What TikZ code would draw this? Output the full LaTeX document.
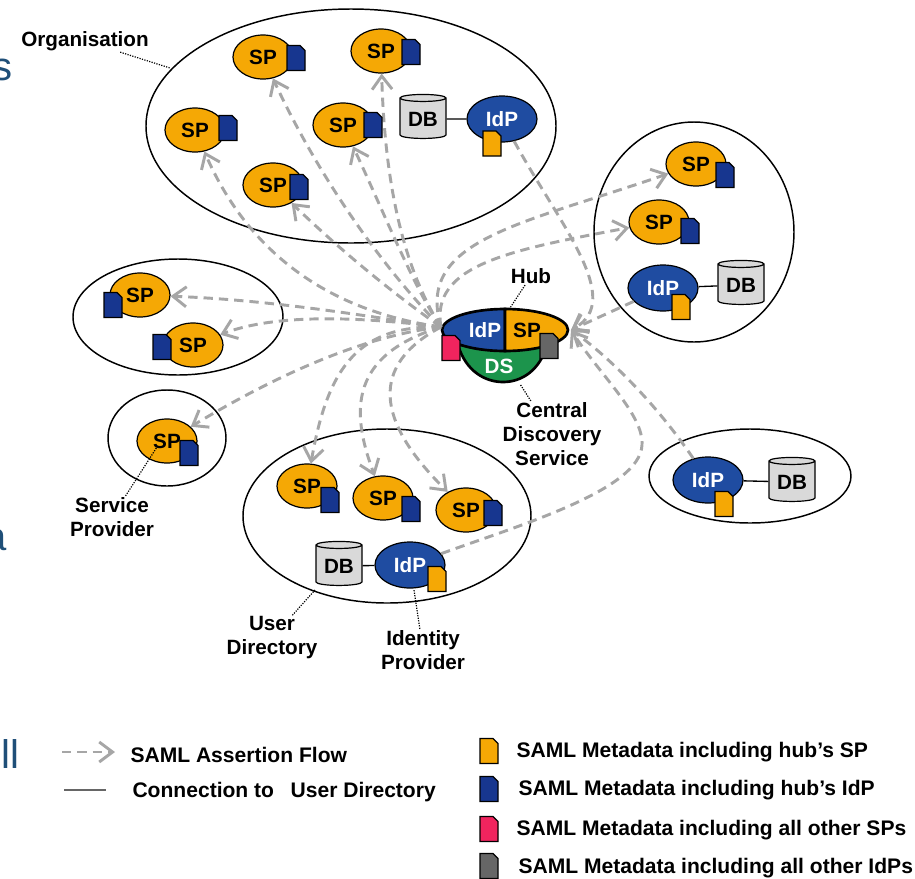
\documentclass[tikz,border=0pt]{standalone}
\usepackage{fontspec}
\setmainfont{Liberation Sans}
\usetikzlibrary{arrows.meta,shapes.geometric}
\definecolor{sporange}{rgb}{0.96,0.66,0.02}
\definecolor{idpblue}{rgb}{0.12,0.30,0.63}
\definecolor{docblue}{rgb}{0.09,0.21,0.56}
\definecolor{dsgreen}{rgb}{0.11,0.58,0.30}
\definecolor{docpink}{rgb}{0.94,0.14,0.37}
\definecolor{docgrey}{rgb}{0.40,0.40,0.40}
\definecolor{dbgrey}{rgb}{0.85,0.85,0.85}
\definecolor{flowgrey}{rgb}{0.65,0.65,0.65}
\definecolor{slideblue}{rgb}{0.12,0.31,0.47}
\tikzset{every picture/.style={line width=0.75pt}}
\tikzset{
  lbl/.style={font=\fontsize{15.5}{18}\selectfont\bfseries,inner sep=0.75pt,align=center},
  legendtxt/.style={font=\fontsize{15.8}{18}\selectfont\bfseries,inner sep=0.75pt,anchor=west},
  slidetxt/.style={font=\fontsize{30}{32}\selectfont,text=slideblue,inner sep=0pt},
  fedzone/.style={draw,line width=1.1pt,fill=white},
  spnode/.style={ellipse,draw,line width=0.9pt,fill=sporange,minimum width=45pt,minimum height=33pt,inner sep=0pt,lbl},
  idpnode/.style={ellipse,draw,line width=0.9pt,fill=idpblue,minimum width=52.5pt,minimum height=34.5pt,inner sep=0pt,lbl,text=white},
  dbnode/.style={cylinder,shape border rotate=90,aspect=0.22,draw,line width=0.9pt,fill=dbgrey,minimum width=34.5pt,minimum height=33pt,inner sep=0pt,lbl},
  flow/.style={draw=flowgrey,line width=2.2pt,dash pattern=on 7pt off 4.5pt,-{Straight Barb[length=10pt,width=15pt]}},
  userdir/.style={line width=1pt},
  callout/.style={densely dotted,line width=0.9pt},
  pics/metadoc/.style={code={\draw[fill=#1,line width=0.9pt] (-9,12.5) -- (4,12.5) -- (9,7.5) -- (9,-12.5) -- (-9,-12.5) -- cycle;}}
}
\begin{document}
\begin{tikzpicture}[x=0.75pt,y=0.75pt,yscale=-1,xscale=1]
\useasboundingbox (0,0) rectangle (915,879);
% Slide leftovers
\draw (-8,70) node [slidetxt,anchor=west] (slideS) {s};
\draw (-16,540) node [slidetxt,anchor=west] (slideA) {a};
\draw (1,754) node [slidetxt,anchor=west] (slideL) {ll};
% Domains
\draw [fedzone] (351,126) ellipse (205 and 117);
\draw [fedzone] (694,232) ellipse (100 and 110);
\draw [fedzone] (178,317) ellipse (105 and 58);
\draw [fedzone] (167,438) ellipse (59 and 48);
\draw [fedzone] (387,516) ellipse (144 and 87);
\draw [fedzone] (750,476) ellipse (101 and 47);
% Hub
\coordinate (hubW) at (441,327);
\coordinate (hubE) at (571,330);
\draw [line width=2pt,fill=dsgreen] (458,345) .. controls (466,372) and (486,382) .. (503,382) .. controls (522,382) and (540,370) .. (547,345) -- cycle;
\draw [line width=2pt,fill=idpblue] (505,309) arc [start angle=270,end angle=90,x radius=63,y radius=21] -- cycle;
\draw [line width=2pt,fill=sporange] (505,309) arc [start angle=270,end angle=450,x radius=63,y radius=21] -- cycle;
\draw (485,330) node [lbl,text=white] (hubIdp) {IdP};
\draw (527,330) node [lbl] (hubSp) {SP};
\draw (499,366) node [lbl,text=white] (hubDs) {DS};
\draw (451,348) pic {metadoc=docpink};
\draw (549,346) pic {metadoc=docgrey};
% Organisation
\draw (263,57) node [spnode] (spA) {SP};
\draw (381,51) node [spnode] (spB) {SP};
\draw (195,130) node [spnode] (spC) {SP};
\draw (343,125) node [spnode] (spD) {SP};
\draw (273,185) node [spnode] (spE) {SP};
\draw (423,119) node [dbnode] (dbA) {DB};
\draw (502,119) node [idpnode] (idpA) {IdP};
% Right domain
\draw (696,164) node [spnode] (spF) {SP};
\draw (659,222) node [spnode] (spG) {SP};
\draw (663,288) node [idpnode] (idpB) {IdP};
\draw (741,285) node [dbnode] (dbB) {DB};
% Left domains
\draw (140,295) node [spnode] (spH) {SP};
\draw (193,345) node [spnode] (spI) {SP};
\draw (167,441) node [spnode] (spJ) {SP};
% Bottom domain
\draw (307,486) node [spnode] (spK) {SP};
\draw (383,498) node [spnode] (spL) {SP};
\draw (466,510) node [spnode] (spM) {SP};
\draw (339,566) node [dbnode] (dbC) {DB};
\draw (410,565) node [idpnode] (idpC) {IdP};
% Lower right domain
\draw (708,480) node [idpnode] (idpD) {IdP};
\draw (792,482) node [dbnode] (dbD) {DB};
% Connections to user directories
\draw [userdir] (dbA) -- (idpA);
\draw [userdir] (idpB) -- (dbB);
\draw [userdir] (dbC) -- (idpC);
\draw [userdir] (idpD) -- (dbD);
% Assertion flows
\coordinate (idpCbend) at (642,445);
\draw [flow] (hubW) .. controls (320,310) and (245,245) .. (spC);
\draw [flow] (hubW) .. controls (395,295) and (340,250) .. (spE);
\draw [flow] (hubW) .. controls (385,270) and (320,180) .. (spA);
\draw [flow] (hubW) .. controls (415,290) and (385,215) .. (spD);
\draw [flow] (hubW) .. controls (405,270) and (385,190) .. (spB);
\draw [flow] (hubW) .. controls (415,240) and (520,225) .. (spF);
\draw [flow] (hubW) .. controls (430,265) and (510,250) .. (spG);
\draw [flow] (hubW) .. controls (360,315) and (270,300) .. (spH);
\draw [flow] (hubW) .. controls (370,318) and (280,312) .. (spI);
\draw [flow] (hubW) .. controls (370,335) and (285,370) .. (spJ);
\draw [flow] (hubW) .. controls (360,325) and (328,365) .. (spK);
\draw [flow] (hubW) .. controls (350,355) and (350,410) .. (spL);
\draw [flow] (hubW) .. controls (370,365) and (375,420) .. (spM);
\draw [flow] (idpA) .. controls (560,225) and (625,300) .. (hubE);
\draw [flow] (idpB) -- (hubE);
\draw [flow] (idpD) .. controls (650,395) and (600,350) .. (hubE);
\draw [flow] (idpC) .. controls (520,525) and (640,490) .. (idpCbend) .. controls (644,415) and (600,375) .. (hubE);
% Metadata documents
\draw (296,58) pic {metadoc=docblue};
\draw (411,52) pic {metadoc=docblue};
\draw (228,128) pic {metadoc=docblue};
\draw (373,125) pic {metadoc=docblue};
\draw (299,187) pic {metadoc=docblue};
\draw (492,143.5) pic {metadoc=sporange};
\draw (725,175) pic {metadoc=docblue};
\draw (690,231) pic {metadoc=docblue};
\draw (681,307) pic {metadoc=sporange};
\draw (113,305) pic {metadoc=docblue};
\draw (162,347) pic {metadoc=docblue};
\draw (189,453) pic {metadoc=docblue};
\draw (330,500) pic {metadoc=docblue};
\draw (411,509) pic {metadoc=docblue};
\draw (493,513) pic {metadoc=docblue};
\draw (437,579) pic {metadoc=sporange};
\draw (724,504) pic {metadoc=sporange};
% Labels
\draw (85,41) node [lbl] (orgLbl) {Organisation};
\draw (531,276) node [lbl] (hubLbl) {Hub};
\draw (552,434) node [lbl] (cdsLbl) {Central\\Discovery\\Service};
\draw (112,517) node [lbl] (spLbl) {Service\\Provider};
\draw (272,638) node [lbl] (udLbl) {User\\Directory};
\draw (423,650) node [lbl] (ipLbl) {Identity\\Provider};
\coordinate (orgEnd) at (170,68);
\coordinate (hubEnd) at (510,308);
\coordinate (cdsEnd) at (520,384);
\coordinate (spEnd) at (157,447);
\coordinate (udEnd) at (315,590);
\coordinate (ipEnd) at (414,590);
\draw [callout] (orgLbl) -- (orgEnd);
\draw [callout] (hubLbl) -- (hubEnd);
\draw [callout] (cdsLbl) -- (cdsEnd);
\draw [callout] (spLbl) -- (spEnd);
\draw [callout] (udLbl) -- (udEnd);
\draw [callout] (ipLbl) -- (ipEnd);
% Legend
\coordinate (flowA) at (62,752);
\coordinate (flowB) at (115,752);
\coordinate (dirA) at (64,790);
\coordinate (dirB) at (106,790);
\draw [flow] (flowA) -- (flowB);
\draw [line width=1.5pt,draw=docgrey] (dirA) -- (dirB);
\draw (129,755) node [legendtxt] (legFlow) {SAML Assertion Flow};
\draw (131,792) node [legendtxt] (legDir) {Connection to\hspace{8pt} User Directory};
\draw (489,751) pic {metadoc=sporange};
\draw (489,789) pic {metadoc=docblue};
\draw (489,829) pic {metadoc=docpink};
\draw (489,866) pic {metadoc=docgrey};
\draw (515,752) node [legendtxt] (legSp) {SAML Metadata including hub's SP};
\draw (517,790) node [legendtxt] (legIdp) {SAML Metadata including hub's IdP};
\draw (515,830) node [legendtxt] (legSps) {SAML Metadata including all other SPs};
\draw (517,868) node [legendtxt] (legIdps) {SAML Metadata including all other IdPs};
\end{tikzpicture}
\end{document}
